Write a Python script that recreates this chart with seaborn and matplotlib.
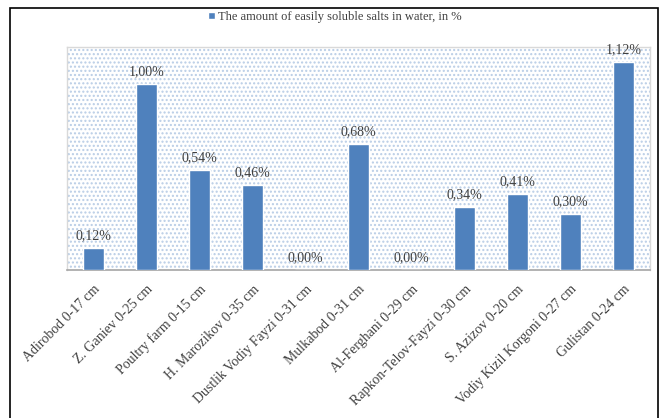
import matplotlib
matplotlib.use("Agg")
import matplotlib.pyplot as plt
import seaborn as sns
import pandas as pd
from matplotlib.patches import Rectangle

sites = [
    "Adirobod 0-17 cm", "Z. Ganiev 0-25 cm", "Poultry farm 0-15 cm",
    "H. Marozikov 0-35 cm", "Dustlik Vodiy Fayzi 0-31 cm", "Mulkabod 0-31 cm",
    "Al-Ferghani 0-29 cm", "Rapkon-Telov-Fayzi 0-30 cm", "S. Azizov 0-20 cm",
    "Vodiy Kizil Korgoni 0-27 cm", "Gulistan 0-24 cm",
]
salts = [0.12, 1.00, 0.54, 0.46, 0.00, 0.68, 0.00, 0.34, 0.41, 0.30, 1.12]
series_name = "The amount of easily soluble salts in water, in %"

df = pd.DataFrame({"site": sites, "value": salts})

sns.set_style("white")
plt.rcParams["font.family"] = ["Liberation Serif", "DejaVu Serif"]
plt.rcParams["hatch.linewidth"] = 1.0
plt.rcParams["hatch.color"] = "#b9cde6"

fig = plt.figure(figsize=(6.62, 4.18), dpi=100)
ax = fig.add_axes([67 / 662, 1 - 270 / 418, 583 / 662, 223 / 418])

bar_color = "#4f81bd"
sns.barplot(data=df, x="site", y="value", color=bar_color, width=0.38,
            saturation=1, ax=ax, label=series_name, zorder=3)

# dotted plot background
ax.patch.set_facecolor("white")
ax.patch.set_hatch("....")
ax.patch.set_edgecolor("#b9cde6")

ax.set_ylim(0, 1.2)
ax.set_xlim(-0.5, len(sites) - 0.5)
ax.set_yticks([])
ax.set_xlabel("")
ax.set_ylabel("")

for spine in ["top", "left", "right"]:
    ax.spines[spine].set_color("#d9d9d9")
    ax.spines[spine].set_linewidth(1.0)
ax.spines["bottom"].set_color("#a6a6a6")
ax.spines["bottom"].set_linewidth(1.2)

for i, v in enumerate(salts):
    ax.text(i, v + 0.03, f"{v:.2f}%".replace(".", ","), ha="center",
            va="bottom", fontsize=10, color="#404040", zorder=4)

ax.set_xticks(range(len(sites)))
ax.set_xticklabels(sites, rotation=45, ha="right", rotation_mode="anchor",
                   fontsize=10, color="#404040")
ax.tick_params(axis="x", length=0, pad=9)

leg = ax.legend(loc="center", bbox_to_anchor=(0.46, 1 + 30 / 223),
                frameon=False, fontsize=9, handlelength=0.55,
                handleheight=0.55, handletextpad=0.25)
for t in leg.get_texts():
    t.set_color("#404040")

# outer chart frame
fig.patches.append(Rectangle((10 / 662, -0.01), 648 / 662, 1 - 8 / 418 + 0.01,
                             transform=fig.transFigure, fill=False,
                             edgecolor="black", linewidth=1.2))

fig.savefig("out.png", dpi=100)
